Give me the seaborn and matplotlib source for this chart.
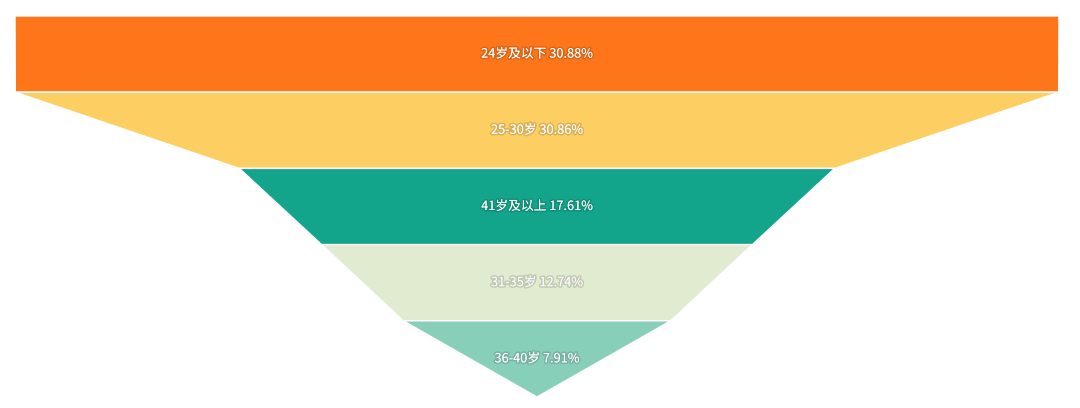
import numpy as np
import matplotlib
matplotlib.use("Agg")
import matplotlib.pyplot as plt
import matplotlib.patheffects as pe
import seaborn as sns

# funnel data (sorted as drawn, top to bottom)
labels = ['24岁及以下', '25-30岁', '41岁及以上', '31-35岁', '36-40岁']
values = [30.88, 30.86, 17.61, 12.74, 7.91]
colors = ['#FF751A', '#FDCE62', '#13A58B', '#E1EBD0', '#88CFBA']

sns.set_theme(style="white")
plt.rcParams['font.family'] = ['Noto Sans CJK SC', 'DejaVu Sans']

fig = plt.figure(figsize=(10.8, 4.08), dpi=100)
ax = fig.add_axes([15 / 1080, 11 / 408, 1044 / 1080, 381 / 408])

vmax = max(values)
n = len(values)
for i, (lab, v, c) in enumerate(zip(labels, values, colors)):
    top_w = v / vmax
    bot_w = values[i + 1] / vmax if i + 1 < n else 0.0
    xs = [-top_w / 2, top_w / 2, bot_w / 2, -bot_w / 2]
    ys = [i, i, i + 1, i + 1]
    ax.fill(xs, ys, color=c, edgecolor='white', linewidth=1, joinstyle='miter')
    ax.text(0, i + 0.5, f'{lab} {v:.2f}%', ha='center', va='center',
            color='white', fontsize=9.2,
            path_effects=[pe.withStroke(linewidth=2.2, foreground=(0, 0, 0, 0.14))])

ax.set_xlim(-0.5, 0.5)
ax.set_ylim(n, 0)
ax.axis('off')

fig.savefig('out.png', dpi=100, facecolor='white')
